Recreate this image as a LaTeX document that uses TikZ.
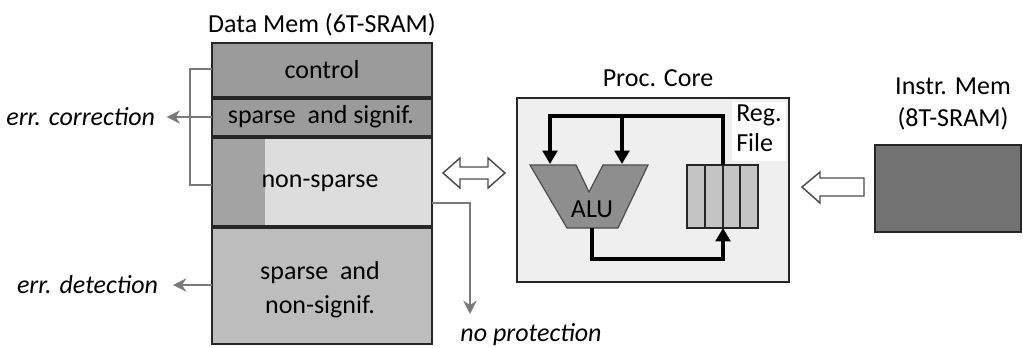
\documentclass[tikz,border=0pt]{standalone}
\usepackage{fontspec}
\setmainfont{Carlito}
\usetikzlibrary{arrows.meta}
\definecolor{cdark}{HTML}{9B9B9B}
\definecolor{clight}{HTML}{DDDDDD}
\definecolor{cstrip}{HTML}{A3A3A3}
\definecolor{cmid}{HTML}{BDBDBD}
\definecolor{ccore}{HTML}{EFEFEF}
\definecolor{cinstr}{HTML}{727272}
\definecolor{cline}{HTML}{7A7A7A}
\definecolor{creg}{HTML}{C4C4C4}
\definecolor{calu}{HTML}{8E8E8E}
\tikzset{
  txt/.style={inner sep=0pt, text=black},
  lbl/.style={inner sep=2pt, font=\fontsize{19.5}{24}\selectfont\itshape, text=black},
  conn/.style={draw=cline, line width=2.2pt, -{Stealth[length=10pt,width=10pt]}},
  bracket/.style={draw=cline, line width=2.2pt},
  divider/.style={draw=black!85, line width=2.4pt},
  border/.style={draw=black!85, line width=1.2pt},
  wire/.style={draw=black, line width=2.3pt},
  wirearrow/.style={wire, -{Triangle[length=10pt,width=11pt]}},
  hollow/.style={draw=black!70, fill=white, line width=1.1pt, line join=miter},
}
\begin{document}
\begin{tikzpicture}[x=0.75pt,y=-0.75pt, font=\fontsize{19.5}{24}\selectfont]
\useasboundingbox (0,0) rectangle (1023,347);

% ---------- Data memory ----------
\fill[cdark] (212,43) rectangle (432,137);
\fill[clight] (212,137) rectangle (432,227);
\fill[cstrip] (212,137) rectangle (265,227);
\fill[cmid] (212,227) rectangle (432,344);
\draw[divider] (212,98) -- (432,98);
\draw[divider] (212,137) -- (432,137);
\draw[divider] (212,227) -- (432,227);
\draw[border] (212,43) rectangle (432,344);

\node[txt] (dmlabel) at (322,25) {Data Mem (6T-SRAM)};
\node[txt] (ctrl) at (322,70) {control};
\node[txt] (sig) at (321,117) {sparse\ \ and signif.};
\node[txt] (nonsp) at (320,183) {non-sparse};
\node[txt, align=center, font=\fontsize{19.5}{25.5}\selectfont] (nonsig) at (320,290) {sparse\ \ and\\non-signif.};

\coordinate (ctrlL) at (212,69);
\coordinate (nsL) at (212,185);
\coordinate (sigL) at (212,117);
\coordinate (nonsigL) at (212,285);
\coordinate (nsR) at (432,203);
\coordinate (npTip) at (470,314);

% ---------- Left annotations ----------
\node[lbl, anchor=east] (corr) at (158,117) {err. correction};
\node[lbl, anchor=east] (det) at (161,285) {err. detection};
\node[lbl] (noprot) at (531,335) {no protection};

\draw[bracket] (ctrlL) -- (190,69) -- (190,185) -- (nsL);
\draw[conn, shorten >=6.5pt] (sigL) -- (corr.east);
\draw[conn, shorten >=9pt] (nonsigL) -- (det.east);
\draw[conn] (nsR) -- (470,203) -- (npTip);

% ---------- Double hollow arrow ----------
\draw[hollow] (443,173) -- (460,158) -- (460,167) -- (488,167) -- (488,158) -- (505,173)
  -- (488,188) -- (488,179) -- (460,179) -- (460,188) -- cycle;

% ---------- Processor core ----------
\draw[border, fill=ccore] (517,98) rectangle (789,282);
\node[txt] (pclabel) at (658,78) {Proc. Core};
\fill[white] (732,102) rectangle (786,161);
\node[txt, anchor=north west, align=left, font=\fontsize{19.5}{22.5}\selectfont] (rflabel) at (736,105) {Reg.\\File};

% ALU
\draw[draw=black!70, fill=calu, line width=0.9pt] (530,165) -- (576,165) -- (589,192) -- (603,165)
  -- (648,165) -- (618,228) -- (567,228) -- cycle;
\node[txt] (alu) at (592,209) {ALU};

% Register file
\foreach \xa/\xb in {687/705,705/723,723/740,740/758}{
  \draw[fill=creg, draw=black!85, line width=1.2pt] (\xa,165) rectangle (\xb,228);
}
\coordinate (rfTop) at (723,165);
\coordinate (rfBot) at (723,228);
\coordinate (aluInA) at (550,164);
\coordinate (aluInB) at (622,164);
\coordinate (aluOut) at (592,228);

\draw[wirearrow] (rfTop) -- (723,116) -- (550,116) -- (aluInA);
\draw[wirearrow] (622,116) -- (aluInB);
\draw[wirearrow] (aluOut) -- (592,259) -- (723,259) -- (rfBot);

% ---------- Instruction memory ----------
\draw[border, fill=cinstr] (875,145) rectangle (1021,232);
\node[txt, align=center, font=\fontsize{19.5}{24}\selectfont] (imlabel) at (953,104) {Instr. Mem\\(8T-SRAM)};

\draw[hollow] (802,187) -- (820,172) -- (820,178) -- (864,178) -- (864,196) -- (820,196)
  -- (820,203) -- cycle;
\end{tikzpicture}
\end{document}
